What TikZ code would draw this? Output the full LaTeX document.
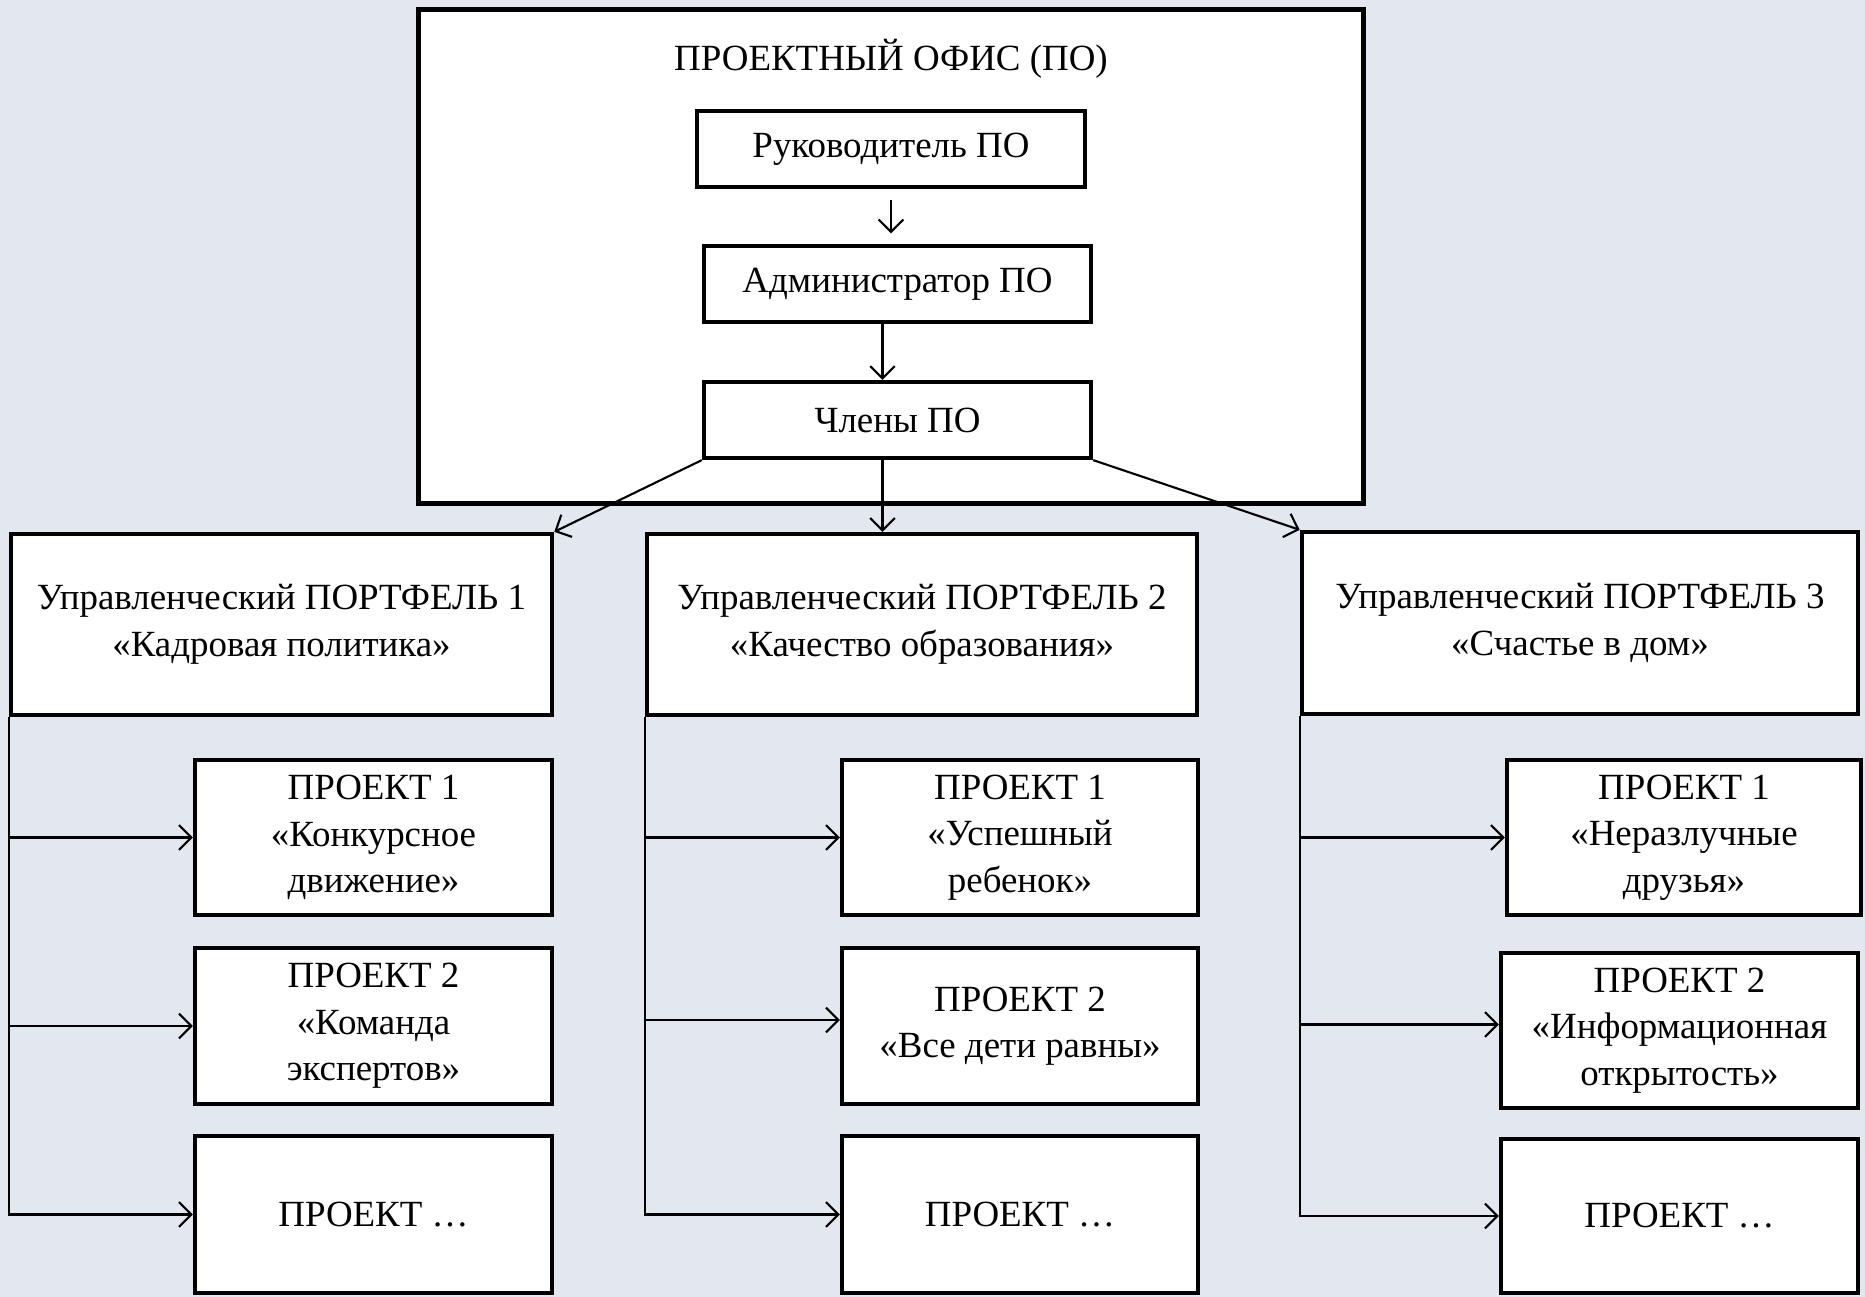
\documentclass[tikz,border=0pt]{standalone}
\usepackage{fontspec}
\setmainfont{Liberation Serif}
\usetikzlibrary{arrows.meta}
\definecolor{bgblue}{RGB}{227,232,240}

\begin{document}
\begin{tikzpicture}[x=0.01cm,y=-0.01cm]
  \tikzstyle{box}=[draw,fill=white,line width=1.2pt,align=center,inner sep=2pt,font=\fontsize{10.5}{13.2}\selectfont]
  \tikzstyle{edge} = [draw,line width=0.6pt,-{Straight Barb[length=3.5pt,width=7pt]}]

    \fill[bgblue] (0,0) rectangle (1865,1297);
    \useasboundingbox (0,0) rectangle (1865,1297);

    \node[box,line width=1.5pt,minimum width=9.44cm,minimum height=4.93cm] (office) at (891,256.5) {};
    \node[font=\fontsize{10.5}{13.2}\selectfont] (title) at (891,59) {ПРОЕКТНЫЙ ОФИС (ПО)};
    \node[box,minimum width=3.88cm,minimum height=0.76cm] (head) at (891,149) {Руководитель ПО};
    \node[box,minimum width=3.87cm,minimum height=0.76cm] (admin) at (897.5,284) {Администратор ПО};
    \node[box,minimum width=3.87cm,minimum height=0.76cm] (members) at (897.5,420) {Члены ПО};

    \node[box,minimum width=5.41cm,minimum height=1.81cm] (port1) at (281.5,624.5) {Управленческий ПОРТФЕЛЬ 1\\«Кадровая политика»};
    \node[box,minimum width=5.50cm,minimum height=1.81cm] (port2) at (922,624.5) {Управленческий ПОРТФЕЛЬ 2\\«Качество образования»};
    \node[box,minimum width=5.56cm,minimum height=1.82cm] (port3) at (1580,623) {Управленческий ПОРТФЕЛЬ 3\\«Счастье в дом»};

    \node[box,minimum width=3.57cm,minimum height=1.55cm] (proj11) at (373.5,837.5) {ПРОЕКТ 1\\«Конкурсное\\движение»};
    \node[box,minimum width=3.57cm,minimum height=1.56cm] (proj12) at (373.5,1026) {ПРОЕКТ 2\\«Команда\\экспертов»};
    \node[box,minimum width=3.57cm,minimum height=1.57cm] (proj13) at (373.5,1214.5) {ПРОЕКТ …};

    \node[box,minimum width=3.56cm,minimum height=1.55cm] (proj21) at (1020,837.5) {ПРОЕКТ 1\\«Успешный\\ребенок»};
    \node[box,minimum width=3.56cm,minimum height=1.56cm] (proj22) at (1020,1026) {ПРОЕКТ 2\\«Все дети равны»};
    \node[box,minimum width=3.56cm,minimum height=1.57cm] (proj23) at (1020,1214.5) {ПРОЕКТ …};

    \node[box,minimum width=3.54cm,minimum height=1.55cm] (proj31) at (1684,837.5) {ПРОЕКТ 1\\«Неразлучные\\друзья»};
    \node[box,minimum width=3.57cm,minimum height=1.55cm] (proj32) at (1679.5,1030.5) {ПРОЕКТ 2\\«Информационная\\открытость»};
    \node[box,minimum width=3.57cm,minimum height=1.54cm] (proj33) at (1679.5,1216) {ПРОЕКТ …};

    \path[edge,shorten <=3pt,shorten >=3pt] (head) -- (head |- admin.north);
    \path[edge] ([xshift=-0.15cm]admin.south) -- ([xshift=-0.15cm]members.north);
    \path[edge] (members.south west) -- (port1.north east);
    \path[edge] ([xshift=-0.15cm]members.south) -- ([xshift=-0.15cm]members.south |- port2.north);
    \path[edge] (members.south east) -- (port3.north west);

    \path[edge] (port1.south west) |- (proj11.west);
    \path[edge] (port1.south west) |- (proj12.west);
    \path[edge] (port1.south west) |- (proj13.west);

    \path[edge] (port2.south west) |- (proj21.west);
    \path[edge] (port2.south west) |- ([yshift=0.06cm]proj22.west);
    \path[edge] (port2.south west) |- (proj23.west);

    \path[edge] (port3.south west) |- (proj31.west);
    \path[edge] (port3.south west) |- ([yshift=0.06cm]proj32.west);
    \path[edge] (port3.south west) |- (proj33.west);
\end{tikzpicture}
\end{document}
